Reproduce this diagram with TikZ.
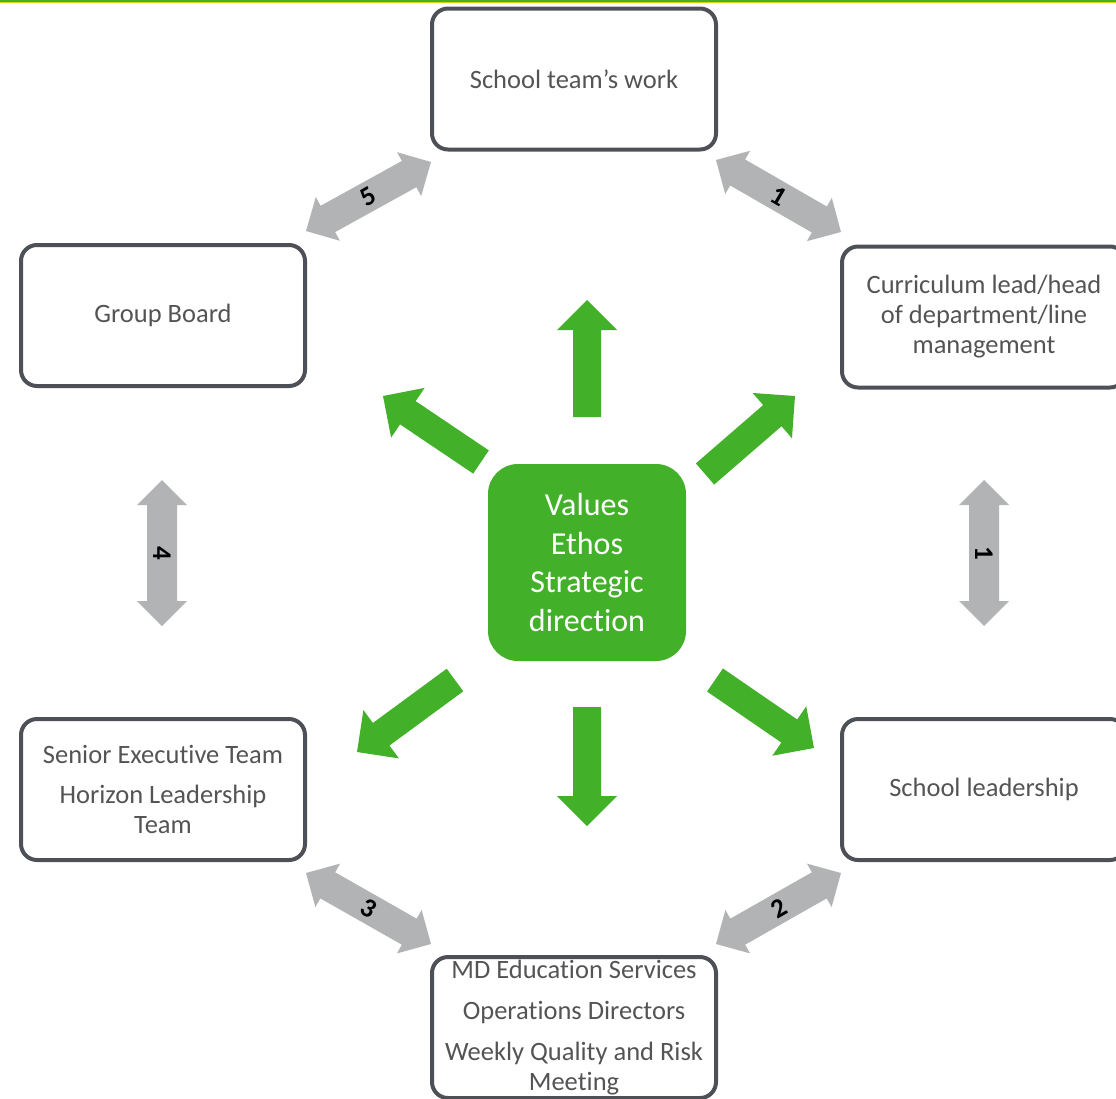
\documentclass[tikz,border=0pt]{standalone}
\usepackage{fontspec}
\setmainfont{Carlito}[Ligatures=NoCommon]
\usetikzlibrary{calc}

\definecolor{leafgreen}{RGB}{67,176,42}
\definecolor{railgrey}{RGB}{178,179,181}
\definecolor{rimgrey}{RGB}{77,81,87}
\definecolor{inkgrey}{RGB}{84,84,84}
\definecolor{stripeyellow}{RGB}{217,212,0}

\tikzset{
 unit/.style={draw=rimgrey,line width=4pt,rounded corners=16pt,minimum width=284pt,minimum height=141pt,
  inner sep=0pt,align=center,text=inkgrey,font=\fontsize{26.5}{30}\selectfont},
 core/.style={fill=leafgreen,rounded corners=30pt,minimum width=198pt,minimum height=197pt,
  inner sep=0pt,align=center,text=white,font=\fontsize{32}{38.7}\selectfont},
 tag/.style={inner sep=0pt,text=black,font=\fontsize{27}{27}\selectfont\bfseries}
}

\newcommand\spoke[2]{%
\coordinate (h) at ($(#2)!30pt!(#1)$);
\fill[leafgreen] ($(#1)!14pt!90:(#2)$) -- ($(h)!14pt!-90:(#1)$) -- ($(h)!30pt!-90:(#1)$) -- (#2)
 -- ($(h)!30pt!90:(#1)$) -- ($(h)!14pt!90:(#1)$) -- ($(#1)!14pt!-90:(#2)$) -- cycle;
}
\newcommand\linkarrow[2]{%
\coordinate (ha) at ($(#1)!25pt!(#2)$);
\coordinate (hb) at ($(#2)!25pt!(#1)$);
\fill[railgrey] (#1) -- ($(ha)!25pt!90:(#2)$) -- ($(ha)!15pt!90:(#2)$) -- ($(hb)!15pt!-90:(#1)$)
 -- ($(hb)!25pt!-90:(#1)$) -- (#2) -- ($(hb)!25pt!90:(#1)$) -- ($(hb)!15pt!90:(#1)$)
 -- ($(ha)!15pt!-90:(#2)$) -- ($(ha)!25pt!-90:(#2)$) -- cycle;
}

\begin{document}
\begin{tikzpicture}[x=1pt,y=-1pt]
\useasboundingbox (0,0) rectangle (1116,1098);

\fill[leafgreen](0,0) rectangle (1116,1.5);
\fill[stripeyellow](0,1.5) rectangle (1116,3);

\node[unit] (team) at (574,79) {School team’s work};
\node[unit] (board) at (163,315.5) {Group Board};
\node[unit] (curric) at (984,317) {Curriculum lead/head\\of department/line\\management};
\node[unit] (senior) at (163,789.5) {Senior Executive Team\\[10pt]Horizon Leadership\\Team};
\node[unit] (school) at (984,789.5) {School leadership};
\node[unit] (md) at (574,1027.5) {MD Education Services\\[11pt]Operations Directors\\[11pt]Weekly Quality and Risk\\Meeting};
\node[core] (hub) at (587,562.5) {Values\\Ethos\\Strategic\\direction};

\foreach \tx/\ty/\hx/\hy [count=\i] in {0/-145.5/0/-262.5, 0/144.5/0/263.5, -106/-100.5/-204/-166.5,
 118/-88.5/208/-166.5, -132/117.5/-230/189.5, 128/117.5/227/185.5}{
 \coordinate (s\i) at ($(hub)+(\tx,\ty)$);
 \coordinate (e\i) at ($(hub)+(\hx,\hy)$);
 \spoke{s\i}{e\i}
}

\coordinate (a5) at ($(board.north east)+(-1,-12)$);
\coordinate (b5) at ($(team.south west)+(1,10.5)$);
\coordinate (a1) at ($(team.south east)+(-2,8.5)$);
\coordinate (b1) at ($(curric.north west)+(1,-12.5)$);
\coordinate (a4) at ($(board.south)+(-1,92)$);
\coordinate (b4) at ($(senior.north)+(-1,-91)$);
\coordinate (a0) at ($(curric.south)+(0,90.5)$);
\coordinate (b0) at ($(school.north)+(0,-91)$);
\coordinate (a3) at ($(senior.south east)+(-1,11)$);
\coordinate (b3) at ($(md.north west)+(1,-11)$);
\coordinate (a2) at ($(md.north east)+(-2,-11)$);
\coordinate (b2) at ($(school.south west)+(1,11)$);

\foreach \k in {5,1,4,0,3,2}{\linkarrow{a\k}{b\k}}

\node[tag,rotate=30] (n5) at ($(a5)!0.5!(b5)$) {5};
\node[tag,rotate=-30] (n1) at ($(a1)!0.5!(b1)$) {1};
\node[tag,rotate=-90] (n4) at ($(a4)!0.5!(b4)$) {4};
\node[tag,rotate=-90] (n0) at ($(a0)!0.5!(b0)$) {1};
\node[tag,rotate=-30] (n3) at ($(a3)!0.5!(b3)$) {3};
\node[tag,rotate=30] (n2) at ($(a2)!0.5!(b2)$) {2};
\end{tikzpicture}
\end{document}
